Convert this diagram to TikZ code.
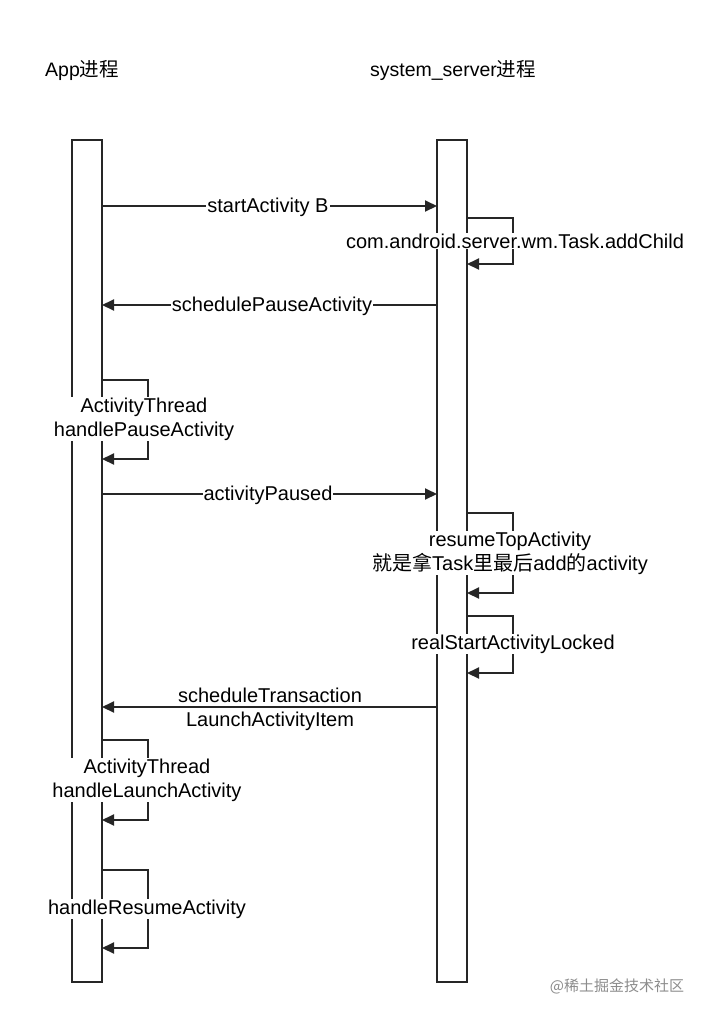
\documentclass[tikz,border=0pt]{standalone}
\usepackage{fontspec}
\setmainfont{Liberation Sans}
\newfontfamily\cjk{Noto Sans CJK SC}
\usetikzlibrary{arrows.meta}
\begin{document}
\begin{tikzpicture}[x=1pt,y=-1pt,
  bar/.style={draw=black!85,line width=2pt,fill=white},
  msg/.style={draw=black!85,line width=2pt,-{Triangle[length=12pt,width=11pt]}},
  lbl/.style={fill=white,inner sep=1pt,font=\fontsize{20}{24}\selectfont,align=center},
  ttl/.style={font=\fontsize{19.5}{22}\selectfont}]
\useasboundingbox (0,0) rectangle (705,1018);
\node[ttl] (t1) at (82,70) {App{\cjk 进程}};
\node[ttl] (t2) at (453,70) {system\_server{\cjk 进程}};
\node[bar,minimum width=30pt,minimum height=842pt,inner sep=0pt] (A) at (87,561) {};
\node[bar,minimum width=30pt,minimum height=842pt,inner sep=0pt] (S) at (452,561) {};
% startActivity B
\coordinate (a1) at (102,206); \coordinate (s1) at (437,206);
\draw[msg] (a1) -- (s1);
\node[lbl] (l1) at (268,207) {startActivity B};
% addChild loop
\coordinate (r1a) at (467,218); \coordinate (r1b) at (467,264);
\draw[msg] (r1a) -- (513,218) -- (513,264) -- (r1b);
\node[lbl] (l2) at (515,241) {com.android.server.wm.Task.addChild};
% schedulePauseActivity
\coordinate (s3) at (437,305); \coordinate (a3) at (102,305);
\draw[msg] (s3) -- (a3);
\node[lbl] (l3) at (272,306) {schedulePauseActivity};
% handlePauseActivity loop
\coordinate (a4a) at (102,380); \coordinate (a4b) at (102,459);
\draw[msg] (a4a) -- (148,380) -- (148,459) -- (a4b);
\node[lbl] (l4) at (144,419) {ActivityThread\\handlePauseActivity};
% activityPaused
\coordinate (a5) at (102,494); \coordinate (s5) at (437,494);
\draw[msg] (a5) -- (s5);
\node[lbl] (l5) at (268,495) {activityPaused};
% resumeTopActivity loop
\coordinate (r6a) at (467,513); \coordinate (r6b) at (467,593);
\draw[msg] (r6a) -- (513,513) -- (513,593) -- (r6b);
\node[lbl] (l6) at (510,553) {resumeTopActivity\\{\cjk 就是拿}Task{\cjk 里最后}add{\cjk 的}activity};
% realStartActivityLocked loop
\coordinate (r7a) at (467,616); \coordinate (r7b) at (467,673);
\draw[msg] (r7a) -- (513,616) -- (513,673) -- (r7b);
\node[lbl] (l7) at (513,644) {realStartActivityLocked};
% scheduleTransaction
\coordinate (s8) at (437,707); \coordinate (a8) at (102,707);
\draw[msg] (s8) -- (a8);
\node[lbl,fill=none] (l8) at (270,709) {scheduleTransaction\\LaunchActivityItem};
% handleLaunchActivity loop
\coordinate (a9a) at (102,740); \coordinate (a9b) at (102,820);
\draw[msg] (a9a) -- (148,740) -- (148,820) -- (a9b);
\node[lbl] (l9) at (147,780) {ActivityThread\\handleLaunchActivity};
% handleResumeActivity loop
\coordinate (a10a) at (102,870); \coordinate (a10b) at (102,948);
\draw[msg] (a10a) -- (148,870) -- (148,948) -- (a10b);
\node[lbl] (l10) at (147,909) {handleResumeActivity};
\node[font=\cjk\fontsize{15}{17}\selectfont,text=black!45] (wm) at (617,986) {@稀土掘金技术社区};
\end{tikzpicture}
\end{document}
